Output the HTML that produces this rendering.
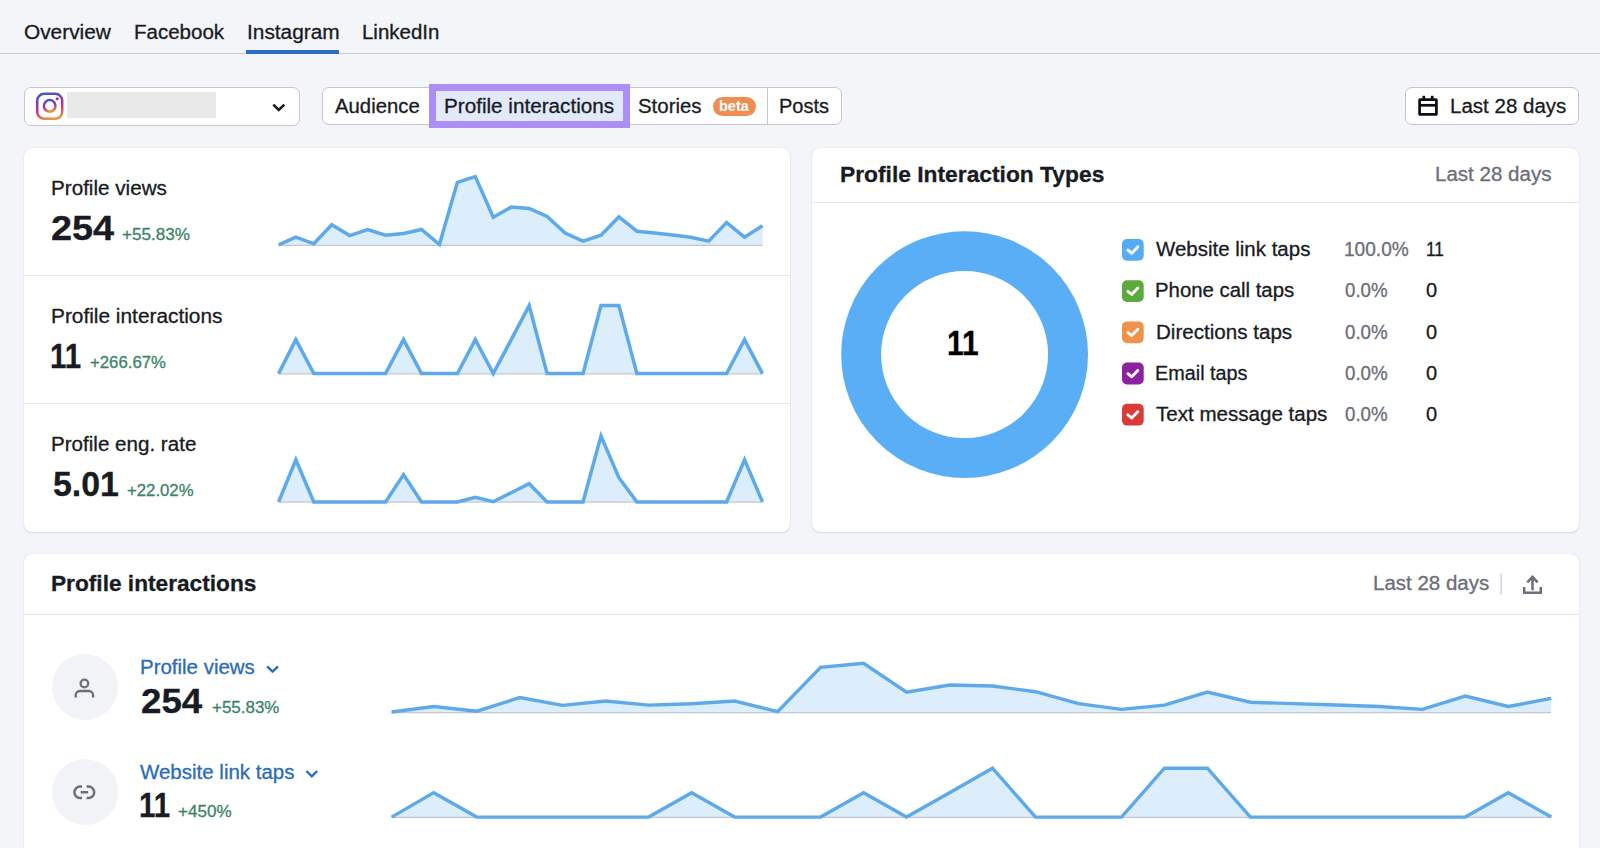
<!DOCTYPE html>
<html lang="en"><head><meta charset="utf-8"><title>Profile interactions</title>
<style>
html,body{margin:0;padding:0}
body{width:1600px;height:848px;overflow:hidden;background:#f4f5f9;position:relative;font-family:"Liberation Sans",sans-serif}
.t{position:absolute;white-space:nowrap;line-height:1;transform-origin:0 0;display:block;-webkit-text-stroke:0.3px currentColor}
.abs{position:absolute;box-sizing:border-box}
.card{position:absolute;background:#fff;border-radius:8px;box-shadow:0 0 1px rgba(25,27,35,.18),0 1px 2px rgba(25,27,35,.10)}
.hl{position:absolute;height:1px;background:#e6e7ec}
.box{position:absolute;box-sizing:border-box;background:#fff;border:1px solid #c4c7cf;border-radius:7px}
svg{position:absolute;left:0;top:0}
</style></head><body>
<div class="abs" style="left:0;top:52.6px;width:1600px;height:1.2px;background:#c9ccd4"></div>
<div class="abs" style="left:246px;top:49.8px;width:93px;height:4.2px;background:#2a6dc0"></div>
<div class="box" style="left:23.5px;top:86.8px;width:276px;height:38.8px"></div>
<div class="abs" style="left:67px;top:92px;width:149px;height:26px;background:#e9e9e9"></div>
<div class="box" style="left:322.2px;top:86.8px;width:520px;height:38.6px"></div>
<div class="abs" style="left:767px;top:87.5px;width:1.2px;height:37px;background:#c4c7cf"></div>
<div class="abs" style="left:429.4px;top:84.1px;width:200.9px;height:44px;background:#e1e9fb;border:7.4px solid #ab8ff6"></div>
<div class="abs" style="left:713px;top:97px;width:42.8px;height:19.3px;border-radius:10px;background:#ef8e50"></div>
<div class="box" style="left:1404.6px;top:86.8px;width:174.6px;height:38.6px"></div>
<div class="card" style="left:24px;top:148px;width:766.3px;height:384px"></div>
<div class="hl" style="left:24px;top:275px;width:766.3px"></div>
<div class="hl" style="left:24px;top:403px;width:766.3px"></div>
<div class="card" style="left:812px;top:148px;width:767px;height:384px"></div>
<div class="hl" style="left:812px;top:202px;width:767px"></div>
<div class="card" style="left:24px;top:553.7px;width:1555px;height:320px"></div>
<div class="hl" style="left:24px;top:613.7px;width:1555px"></div>
<div class="abs" style="left:51.7px;top:654.2px;width:66px;height:66px;border-radius:50%;background:#f2f3f7"></div>
<div class="abs" style="left:51.7px;top:759.3px;width:66px;height:66px;border-radius:50%;background:#f2f3f7"></div>
<svg width="1600" height="848" viewBox="0 0 1600 848">
<path d="M278.60,245.30 L278.60,244.80 L295.85,237.20 L313.80,243.80 L331.74,224.70 L349.69,235.60 L367.64,229.50 L385.59,235.20 L403.54,233.40 L421.49,229.50 L439.43,244.50 L457.38,182.30 L475.33,176.60 L493.28,217.20 L511.23,207.10 L529.17,208.40 L547.12,216.40 L565.07,233.10 L583.02,241.20 L600.97,235.20 L618.91,216.90 L636.86,231.20 L654.81,233.10 L672.76,235.10 L690.71,237.20 L708.66,241.20 L726.60,222.60 L744.55,237.20 L762.50,225.80 L762.50,245.30 Z" fill="#dcedfc"/><line x1="278.60" y1="245.30" x2="762.50" y2="245.30" stroke="#c4c7cf" stroke-width="1.2"/><polyline points="278.60,244.80 295.85,237.20 313.80,243.80 331.74,224.70 349.69,235.60 367.64,229.50 385.59,235.20 403.54,233.40 421.49,229.50 439.43,244.50 457.38,182.30 475.33,176.60 493.28,217.20 511.23,207.10 529.17,208.40 547.12,216.40 565.07,233.10 583.02,241.20 600.97,235.20 618.91,216.90 636.86,231.20 654.81,233.10 672.76,235.10 690.71,237.20 708.66,241.20 726.60,222.60 744.55,237.20 762.50,225.80" fill="none" stroke="#5ea9e9" stroke-width="3.5" stroke-linejoin="miter" stroke-linecap="butt"/>
<path d="M278.60,373.80 L278.60,373.60 L295.85,339.60 L313.80,373.60 L331.74,373.60 L349.69,373.60 L367.64,373.60 L385.59,373.60 L403.54,339.60 L421.49,373.60 L439.43,373.60 L457.38,373.60 L475.33,339.60 L493.28,373.60 L511.23,339.60 L529.17,305.60 L547.12,373.60 L565.07,373.60 L583.02,373.60 L600.97,305.60 L618.91,305.60 L636.86,373.60 L654.81,373.60 L672.76,373.60 L690.71,373.60 L708.66,373.60 L726.60,373.60 L744.55,339.60 L762.50,373.60 L762.50,373.80 Z" fill="#dcedfc"/><line x1="278.60" y1="373.80" x2="762.50" y2="373.80" stroke="#c4c7cf" stroke-width="1.2"/><polyline points="278.60,373.60 295.85,339.60 313.80,373.60 331.74,373.60 349.69,373.60 367.64,373.60 385.59,373.60 403.54,339.60 421.49,373.60 439.43,373.60 457.38,373.60 475.33,339.60 493.28,373.60 511.23,339.60 529.17,305.60 547.12,373.60 565.07,373.60 583.02,373.60 600.97,305.60 618.91,305.60 636.86,373.60 654.81,373.60 672.76,373.60 690.71,373.60 708.66,373.60 726.60,373.60 744.55,339.60 762.50,373.60" fill="none" stroke="#5ea9e9" stroke-width="3.5" stroke-linejoin="miter" stroke-linecap="butt"/>
<path d="M278.60,502.10 L278.60,501.90 L295.85,459.80 L313.80,501.90 L331.74,501.90 L349.69,501.90 L367.64,501.90 L385.59,501.90 L403.54,474.60 L421.49,501.90 L439.43,501.90 L457.38,501.90 L475.33,497.20 L493.28,501.70 L511.23,492.70 L529.17,483.70 L547.12,501.90 L565.07,501.90 L583.02,501.90 L600.97,436.00 L618.91,477.70 L636.86,501.90 L654.81,501.90 L672.76,501.90 L690.71,501.90 L708.66,501.90 L726.60,501.90 L744.55,459.80 L762.50,501.90 L762.50,502.10 Z" fill="#dcedfc"/><line x1="278.60" y1="502.10" x2="762.50" y2="502.10" stroke="#c4c7cf" stroke-width="1.2"/><polyline points="278.60,501.90 295.85,459.80 313.80,501.90 331.74,501.90 349.69,501.90 367.64,501.90 385.59,501.90 403.54,474.60 421.49,501.90 439.43,501.90 457.38,501.90 475.33,497.20 493.28,501.70 511.23,492.70 529.17,483.70 547.12,501.90 565.07,501.90 583.02,501.90 600.97,436.00 618.91,477.70 636.86,501.90 654.81,501.90 672.76,501.90 690.71,501.90 708.66,501.90 726.60,501.90 744.55,459.80 762.50,501.90" fill="none" stroke="#5ea9e9" stroke-width="3.5" stroke-linejoin="miter" stroke-linecap="butt"/>
<path d="M391.60,712.60 L391.60,711.94 L433.78,706.52 L476.76,711.23 L519.74,697.61 L562.72,705.38 L605.70,701.03 L648.68,705.10 L691.66,703.82 L734.64,701.03 L777.62,711.73 L820.60,667.38 L863.58,663.32 L906.56,692.26 L949.54,685.06 L992.51,685.99 L1035.49,691.69 L1078.47,703.60 L1121.45,709.38 L1164.43,705.10 L1207.41,692.05 L1250.39,702.25 L1293.37,703.60 L1336.35,705.03 L1379.33,706.52 L1422.31,709.38 L1465.29,696.11 L1508.27,706.52 L1551.25,698.40 L1551.25,712.60 Z" fill="#dcedfc"/><line x1="391.60" y1="712.60" x2="1551.25" y2="712.60" stroke="#c4c7cf" stroke-width="1.2"/><polyline points="391.60,711.94 433.78,706.52 476.76,711.23 519.74,697.61 562.72,705.38 605.70,701.03 648.68,705.10 691.66,703.82 734.64,701.03 777.62,711.73 820.60,667.38 863.58,663.32 906.56,692.26 949.54,685.06 992.51,685.99 1035.49,691.69 1078.47,703.60 1121.45,709.38 1164.43,705.10 1207.41,692.05 1250.39,702.25 1293.37,703.60 1336.35,705.03 1379.33,706.52 1422.31,709.38 1465.29,696.11 1508.27,706.52 1551.25,698.40" fill="none" stroke="#5ea9e9" stroke-width="3.4" stroke-linejoin="miter" stroke-linecap="butt"/>
<path d="M391.60,817.30 L391.60,817.10 L433.78,792.65 L476.76,817.10 L519.74,817.10 L562.72,817.10 L605.70,817.10 L648.68,817.10 L691.66,792.65 L734.64,817.10 L777.62,817.10 L820.60,817.10 L863.58,792.65 L906.56,817.10 L949.54,792.65 L992.51,768.20 L1035.49,817.10 L1078.47,817.10 L1121.45,817.10 L1164.43,768.20 L1207.41,768.20 L1250.39,817.10 L1293.37,817.10 L1336.35,817.10 L1379.33,817.10 L1422.31,817.10 L1465.29,817.10 L1508.27,792.65 L1551.25,817.10 L1551.25,817.30 Z" fill="#dcedfc"/><line x1="391.60" y1="817.30" x2="1551.25" y2="817.30" stroke="#c4c7cf" stroke-width="1.2"/><polyline points="391.60,817.10 433.78,792.65 476.76,817.10 519.74,817.10 562.72,817.10 605.70,817.10 648.68,817.10 691.66,792.65 734.64,817.10 777.62,817.10 820.60,817.10 863.58,792.65 906.56,817.10 949.54,792.65 992.51,768.20 1035.49,817.10 1078.47,817.10 1121.45,817.10 1164.43,768.20 1207.41,768.20 1250.39,817.10 1293.37,817.10 1336.35,817.10 1379.33,817.10 1422.31,817.10 1465.29,817.10 1508.27,792.65 1551.25,817.10" fill="none" stroke="#5ea9e9" stroke-width="3.4" stroke-linejoin="miter" stroke-linecap="butt"/>
<circle cx="964.6" cy="354.6" r="103.45" fill="none" stroke="#59aef6" stroke-width="39.9"/>
<rect x="1122" y="239.00" width="21.7" height="21.8" rx="5" fill="#55abf5"/>
<polyline points="1127.9,250.10 1131.7,253.20 1137.8,246.90" fill="none" stroke="#fff" stroke-width="2.9" stroke-linecap="round" stroke-linejoin="round"/>
<rect x="1122" y="280.20" width="21.7" height="21.8" rx="5" fill="#5aaa3c"/>
<polyline points="1127.9,291.30 1131.7,294.40 1137.8,288.10" fill="none" stroke="#fff" stroke-width="2.9" stroke-linecap="round" stroke-linejoin="round"/>
<rect x="1122" y="321.40" width="21.7" height="21.8" rx="5" fill="#f0924a"/>
<polyline points="1127.9,332.50 1131.7,335.60 1137.8,329.30" fill="none" stroke="#fff" stroke-width="2.9" stroke-linecap="round" stroke-linejoin="round"/>
<rect x="1122" y="362.60" width="21.7" height="21.8" rx="5" fill="#8c229f"/>
<polyline points="1127.9,373.70 1131.7,376.80 1137.8,370.50" fill="none" stroke="#fff" stroke-width="2.9" stroke-linecap="round" stroke-linejoin="round"/>
<rect x="1122" y="403.80" width="21.7" height="21.8" rx="5" fill="#db3b37"/>
<polyline points="1127.9,414.90 1131.7,418.00 1137.8,411.70" fill="none" stroke="#fff" stroke-width="2.9" stroke-linecap="round" stroke-linejoin="round"/>
<circle cx="84.4" cy="683.5" r="3.8" fill="none" stroke="#6c6e79" stroke-width="2.3"/>
<path d="M75.7,697.4 v-2.2 a4.2,4.2 0 0 1 4.2,-4.2 h9 a4.2,4.2 0 0 1 4.2,4.2 v2.2" fill="none" stroke="#6c6e79" stroke-width="2.3"/>
<path d="M82,786.6 h-1.9 a5.7,5.7 0 0 0 0,11.4 h1.9 M86.6,786.6 h1.9 a5.7,5.7 0 0 1 0,11.4 h-1.9 M80.7,792.3 h7.4" fill="none" stroke="#6c6e79" stroke-width="2.5" stroke-linecap="butt"/>
<polyline points="267.2,666.3 272.6,671.6 278,666.3" fill="none" stroke="#2b6cb8" stroke-width="2.4" stroke-linejoin="miter"/>
<polyline points="306.4,771 311.8,776.3 317.2,771" fill="none" stroke="#2b6cb8" stroke-width="2.4" stroke-linejoin="miter"/>
<polyline points="273.3,104.6 278.8,110 284.3,104.6" fill="none" stroke="#191b23" stroke-width="2.6" stroke-linejoin="miter"/>
<g fill="none" stroke="#0d0e13" stroke-width="2.7"><rect x="1419.6" y="99.6" width="16.8" height="14.8" rx="0.5"/><line x1="1419.6" y1="105.3" x2="1436.4" y2="105.3"/><line x1="1423.8" y1="95.8" x2="1423.8" y2="100"/><line x1="1432.2" y1="95.8" x2="1432.2" y2="100"/></g>
<g fill="none" stroke="#6c6e79" stroke-width="2.5"><path d="M1524.2,586.9 v5.8 h16.6 v-5.8"/><path d="M1532.5,590.3 v-13.5 M1527.3,582.3 l5.2,-5.4 l5.2,5.4"/></g>
<line x1="1501.2" y1="573.4" x2="1501.2" y2="594.8" stroke="#c4c7cf" stroke-width="1.2"/>
<defs><linearGradient id="ig" x1="0.3" y1="0" x2="0.55" y2="1"><stop offset="0" stop-color="#4a55c8"/><stop offset="0.35" stop-color="#8f38b4"/><stop offset="0.6" stop-color="#c9308a"/><stop offset="0.8" stop-color="#dd5a5c"/><stop offset="1" stop-color="#ea9444"/></linearGradient></defs>
<g fill="none" stroke="url(#ig)" stroke-width="2.5"><rect x="37.2" y="93.8" width="25" height="25" rx="7"/><circle cx="49.7" cy="105.9" r="5.8"/></g><circle cx="57.2" cy="98.8" r="1.5" fill="#9a2f9a"/>
</svg>
<span class="t" style="left:23.69px;top:23.01px;font-size:19.6px;font-weight:400;color:#191b23;transform:scaleX(1.0630)">Overview</span>
<span class="t" style="left:133.81px;top:23.01px;font-size:19.6px;font-weight:400;color:#191b23;transform:scaleX(1.0464)">Facebook</span>
<span class="t" style="left:246.57px;top:23.01px;font-size:19.6px;font-weight:400;color:#191b23;transform:scaleX(1.0643)">Instagram</span>
<span class="t" style="left:361.81px;top:23.01px;font-size:19.6px;font-weight:400;color:#191b23;transform:scaleX(1.0437)">LinkedIn</span>
<span class="t" style="left:335.00px;top:97.11px;font-size:19.6px;font-weight:400;color:#191b23;transform:scaleX(1.0370)">Audience</span>
<span class="t" style="left:443.79px;top:97.11px;font-size:19.6px;font-weight:400;color:#191b23;transform:scaleX(1.0553)">Profile interactions</span>
<span class="t" style="left:637.71px;top:97.11px;font-size:19.6px;font-weight:400;color:#191b23;transform:scaleX(1.0424)">Stories</span>
<span class="t" style="left:718.86px;top:99.05px;font-size:14px;font-weight:700;color:#ffffff;-webkit-text-stroke:0;transform:scaleX(1.0357)">beta</span>
<span class="t" style="left:779.36px;top:97.11px;font-size:19.6px;font-weight:400;color:#191b23;transform:scaleX(1.0207)">Posts</span>
<span class="t" style="left:1450.01px;top:96.61px;font-size:19.6px;font-weight:400;color:#191b23;transform:scaleX(1.0472)">Last 28 days</span>
<span class="t" style="left:50.89px;top:179.21px;font-size:19.6px;font-weight:400;color:#191b23;transform:scaleX(1.0537)">Profile views</span>
<span class="t" style="left:51.14px;top:210.85px;font-size:34.2px;font-weight:700;color:#191b23;transform:scaleX(1.1071)">254</span>
<span class="t" style="left:122.35px;top:225.60px;font-size:16.3px;font-weight:400;color:#3c8468;transform:scaleX(1.0508)">+55.83%</span>
<span class="t" style="left:50.87px;top:307.21px;font-size:19.6px;font-weight:400;color:#191b23;transform:scaleX(1.0638)">Profile interactions</span>
<span class="t" style="left:50.44px;top:338.95px;font-size:34.2px;font-weight:700;color:#191b23;transform:scaleX(0.8600)">11</span>
<span class="t" style="left:89.77px;top:353.70px;font-size:16.3px;font-weight:400;color:#3c8468;transform:scaleX(1.0292)">+266.67%</span>
<span class="t" style="left:50.90px;top:435.21px;font-size:19.6px;font-weight:400;color:#191b23;transform:scaleX(1.0507)">Profile eng. rate</span>
<span class="t" style="left:52.91px;top:466.95px;font-size:34.2px;font-weight:700;color:#191b23;transform:scaleX(0.9908)">5.01</span>
<span class="t" style="left:126.77px;top:481.70px;font-size:16.3px;font-weight:400;color:#3c8468;transform:scaleX(1.0286)">+22.02%</span>
<span class="t" style="left:839.93px;top:164.37px;font-size:22.6px;font-weight:700;color:#191b23;transform:scaleX(1.0089)">Profile Interaction Types</span>
<span class="t" style="left:1435.20px;top:165.31px;font-size:19.6px;font-weight:400;color:#6c6e79;transform:scaleX(1.0481)">Last 28 days</span>
<span class="t" style="left:947.06px;top:325.71px;font-size:34.6px;font-weight:700;color:#000000;transform:scaleX(0.8676)">11</span>
<span class="t" style="left:51.29px;top:573.07px;font-size:22.6px;font-weight:700;color:#191b23;transform:scaleX(1.0035)">Profile interactions</span>
<span class="t" style="left:1373.31px;top:574.01px;font-size:19.6px;font-weight:400;color:#6c6e79;transform:scaleX(1.0463)">Last 28 days</span>
<span class="t" style="left:140.11px;top:658.26px;font-size:19.6px;font-weight:400;color:#2b6cb8;transform:scaleX(1.0439)">Profile views</span>
<span class="t" style="left:141.13px;top:683.75px;font-size:34.2px;font-weight:700;color:#191b23;transform:scaleX(1.0741)">254</span>
<span class="t" style="left:211.86px;top:698.90px;font-size:16.3px;font-weight:400;color:#3c8468;transform:scaleX(1.0413)">+55.83%</span>
<span class="t" style="left:140.30px;top:762.91px;font-size:19.6px;font-weight:400;color:#2b6cb8;transform:scaleX(1.0456)">Website link taps</span>
<span class="t" style="left:139.27px;top:788.45px;font-size:34.2px;font-weight:700;color:#191b23;transform:scaleX(0.8600)">11</span>
<span class="t" style="left:177.70px;top:803.20px;font-size:16.3px;font-weight:400;color:#3c8468;transform:scaleX(1.0470)">+450%</span>
<span class="t" style="left:1155.50px;top:240.11px;font-size:19.6px;font-weight:400;color:#191b23;transform:scaleX(1.0449)">Website link taps</span>
<span class="t" style="left:1343.85px;top:240.11px;font-size:19.6px;font-weight:400;color:#6c6e79;transform:scaleX(0.9750)">100.0%</span>
<span class="t" style="left:1426.24px;top:240.11px;font-size:19.6px;font-weight:400;color:#191b23;transform:scaleX(0.8824)">11</span>
<span class="t" style="left:1155.32px;top:281.31px;font-size:19.6px;font-weight:400;color:#191b23;transform:scaleX(1.0389)">Phone call taps</span>
<span class="t" style="left:1344.84px;top:281.31px;font-size:19.6px;font-weight:400;color:#6c6e79;transform:scaleX(0.9558)">0.0%</span>
<span class="t" style="left:1426.18px;top:281.31px;font-size:19.6px;font-weight:400;color:#191b23;transform:scaleX(1.0222)">0</span>
<span class="t" style="left:1156.00px;top:322.51px;font-size:19.6px;font-weight:400;color:#191b23;transform:scaleX(1.0504)">Directions taps</span>
<span class="t" style="left:1344.84px;top:322.51px;font-size:19.6px;font-weight:400;color:#6c6e79;transform:scaleX(0.9558)">0.0%</span>
<span class="t" style="left:1426.18px;top:322.51px;font-size:19.6px;font-weight:400;color:#191b23;transform:scaleX(1.0222)">0</span>
<span class="t" style="left:1155.38px;top:363.71px;font-size:19.6px;font-weight:400;color:#191b23;transform:scaleX(1.0112)">Email taps</span>
<span class="t" style="left:1344.84px;top:363.71px;font-size:19.6px;font-weight:400;color:#6c6e79;transform:scaleX(0.9558)">0.0%</span>
<span class="t" style="left:1426.18px;top:363.71px;font-size:19.6px;font-weight:400;color:#191b23;transform:scaleX(1.0222)">0</span>
<span class="t" style="left:1155.50px;top:404.91px;font-size:19.6px;font-weight:400;color:#191b23;transform:scaleX(1.0491)">Text message taps</span>
<span class="t" style="left:1344.84px;top:404.91px;font-size:19.6px;font-weight:400;color:#6c6e79;transform:scaleX(0.9558)">0.0%</span>
<span class="t" style="left:1426.18px;top:404.91px;font-size:19.6px;font-weight:400;color:#191b23;transform:scaleX(1.0222)">0</span>
</body></html>
